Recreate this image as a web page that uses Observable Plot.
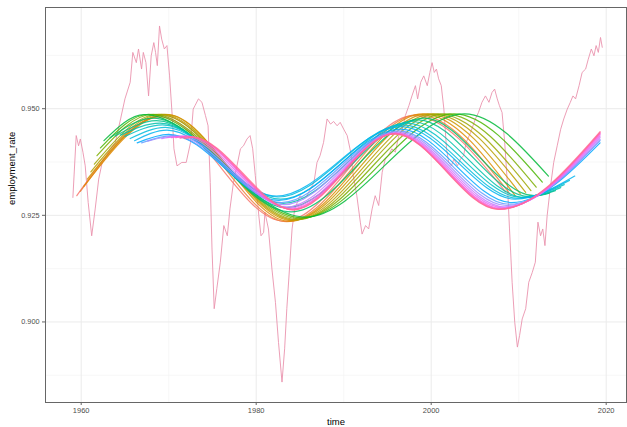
<!DOCTYPE html>
<html><head><meta charset="utf-8">
<script src="https://cdn.jsdelivr.net/npm/d3@7"></script>
<script src="https://cdn.jsdelivr.net/npm/@observablehq/plot@0.6"></script>
<style>
html,body{margin:0;padding:0;background:#fff;}
#chart svg{display:block;}
</style>
</head><body><div id="chart"></div>
<script>
// ---- observed employment rate (pink line) ----
const obsYear = [1959.05,1959.43,1959.70,1959.90,1960.20,1960.46,1960.80,1961.20,1961.60,1962.00,1962.40,1962.90,1963.30,1963.90,1964.50,1965.00,1965.60,1965.90,1966.30,1966.55,1966.90,1967.10,1967.40,1967.70,1968.00,1968.30,1968.50,1968.70,1968.95,1969.20,1969.50,1969.80,1970.10,1970.40,1970.60,1970.95,1971.50,1972.00,1972.50,1972.80,1973.00,1973.40,1973.80,1974.20,1974.50,1974.75,1974.95,1975.20,1975.50,1975.90,1976.30,1976.70,1977.00,1977.40,1977.80,1978.20,1978.55,1978.95,1979.30,1979.60,1979.90,1980.30,1980.55,1980.85,1981.00,1981.40,1981.80,1982.20,1982.55,1982.95,1983.25,1983.50,1983.80,1984.10,1984.40,1984.70,1985.00,1985.40,1985.80,1986.20,1986.60,1986.95,1987.30,1987.70,1988.10,1988.50,1988.85,1989.25,1989.60,1990.00,1990.40,1990.80,1991.10,1991.50,1991.90,1992.10,1992.50,1992.85,1993.25,1993.60,1994.00,1994.40,1994.75,1995.10,1995.50,1995.90,1996.30,1996.70,1997.05,1997.45,1997.80,1998.20,1998.45,1998.80,1999.15,1999.55,1999.85,2000.10,2000.35,2000.60,2000.85,2001.15,2001.45,2001.75,2002.00,2002.30,2002.60,2003.00,2003.35,2003.70,2004.00,2004.50,2005.05,2005.40,2005.80,2006.20,2006.60,2006.95,2007.25,2007.55,2007.80,2008.10,2008.40,2008.70,2008.95,2009.25,2009.55,2009.85,2010.10,2010.40,2010.80,2011.15,2011.55,2011.90,2012.20,2012.50,2012.75,2013.00,2013.25,2013.60,2014.00,2014.40,2014.80,2015.15,2015.55,2015.90,2016.20,2016.50,2016.90,2017.25,2017.65,2017.95,2018.30,2018.60,2018.85,2019.10,2019.35,2019.55];
const obsRate = [0.9292,0.9437,0.9413,0.9429,0.9398,0.9366,0.9280,0.9202,0.9265,0.9335,0.9374,0.9390,0.9406,0.9421,0.9476,0.9523,0.9562,0.9632,0.9608,0.9640,0.9593,0.9632,0.9608,0.9530,0.9624,0.9655,0.9632,0.9601,0.9694,0.9663,0.9640,0.9648,0.9577,0.9484,0.9406,0.9366,0.9374,0.9374,0.9421,0.9499,0.9507,0.9523,0.9515,0.9484,0.9460,0.9327,0.9171,0.9031,0.9078,0.9140,0.9226,0.9202,0.9265,0.9327,0.9366,0.9406,0.9413,0.9429,0.9437,0.9406,0.9343,0.9249,0.9202,0.9210,0.9257,0.9218,0.9124,0.9046,0.8952,0.8859,0.8937,0.9031,0.9124,0.9218,0.9265,0.9280,0.9296,0.9288,0.9296,0.9312,0.9327,0.9374,0.9390,0.9421,0.9476,0.9464,0.9470,0.9460,0.9468,0.9452,0.9437,0.9398,0.9343,0.9296,0.9234,0.9206,0.9226,0.9218,0.9265,0.9296,0.9273,0.9351,0.9382,0.9390,0.9406,0.9398,0.9437,0.9452,0.9484,0.9507,0.9530,0.9554,0.9523,0.9562,0.9577,0.9554,0.9585,0.9608,0.9585,0.9593,0.9570,0.9554,0.9499,0.9406,0.9374,0.9366,0.9382,0.9366,0.9382,0.9390,0.9421,0.9444,0.9476,0.9491,0.9515,0.9530,0.9515,0.9538,0.9546,0.9523,0.9507,0.9491,0.9421,0.9327,0.9218,0.9093,0.8999,0.8941,0.8968,0.9007,0.9031,0.9093,0.9116,0.9140,0.9234,0.9202,0.9218,0.9179,0.9249,0.9312,0.9374,0.9413,0.9452,0.9476,0.9499,0.9515,0.9530,0.9523,0.9554,0.9585,0.9593,0.9616,0.9640,0.9624,0.9648,0.9632,0.9667,0.9644];

// ---- fitted cycle curves: key points (start, extrema, end) ----
const fitYears = [
  [1959.5,1969.0,1983.2,1998.0,2008.5],
  [1959.9,1969.4,1983.5,1998.5,2009.0],
  [1960.3,1969.8,1983.8,1999.0,2009.6],
  [1960.7,1969.6,1984.1,1999.6,2010.2],
  [1961.1,1969.2,1984.4,2000.2,2010.8],
  [1961.5,1968.8,1984.7,2000.8,2011.4],
  [1961.8,1968.2,1985.0,2001.6,2012.0],
  [1962.2,1967.7,1985.3,2002.6,2012.7],
  [1962.6,1967.2,1985.6,2003.8,2013.4],
  [1963.3,1968.2,1984.0,1999.2,2011.8,2013.5],
  [1963.9,1968.6,1983.5,1998.5,2011.2,2014.2],
  [1964.5,1969.0,1983.1,1997.8,2010.7,2014.8],
  [1965.0,1969.3,1982.8,1997.2,2010.3,2015.2],
  [1965.6,1969.6,1982.5,1996.8,2009.9,2015.8],
  [1966.1,1969.8,1982.3,1996.6,2009.6,2016.4],
  [1966.4,1970.0,1982.6,1996.5,2009.2,2019.3],
  [1966.9,1970.4,1982.9,1996.3,2008.9,2019.3],
  [1967.6,1970.9,1983.2,1996.2,2008.6,2019.3],
  [1969.2,1971.4,1983.5,1996.1,2008.4,2019.3],
  [1969.8,1971.8,1983.8,1996.0,2008.2,2019.3],
  [1970.3,1972.1,1984.0,1995.9,2008.0,2019.3],
  [1970.8,1972.3,1984.1,1995.8,2007.9,2019.3],
  [1971.3,1972.5,1984.2,1995.8,2007.8,2019.3],
  [1971.8,1972.7,1984.3,1995.8,2007.7,2019.3]
];
const fitValues = [
  [0.9296,0.9481,0.9236,0.9484,0.9305],
  [0.9306,0.9484,0.9235,0.9486,0.9300],
  [0.9318,0.9486,0.9236,0.9488,0.9296],
  [0.9335,0.9487,0.9238,0.9488,0.9300],
  [0.9352,0.9487,0.9239,0.9488,0.9304],
  [0.9370,0.9487,0.9240,0.9488,0.9308],
  [0.9390,0.9487,0.9242,0.9488,0.9316],
  [0.9408,0.9487,0.9244,0.9488,0.9328],
  [0.9425,0.9486,0.9246,0.9488,0.9342],
  [0.9432,0.9478,0.9258,0.9478,0.9296,0.9302],
  [0.9436,0.9472,0.9268,0.9474,0.9294,0.9308],
  [0.9438,0.9466,0.9278,0.9470,0.9292,0.9315],
  [0.9435,0.9462,0.9288,0.9466,0.9292,0.9322],
  [0.9430,0.9456,0.9293,0.9462,0.9290,0.9332],
  [0.9425,0.9450,0.9295,0.9458,0.9288,0.9342],
  [0.9420,0.9440,0.9285,0.9452,0.9280,0.9420],
  [0.9420,0.9437,0.9280,0.9448,0.9276,0.9425],
  [0.9424,0.9436,0.9275,0.9446,0.9273,0.9428],
  [0.9430,0.9436,0.9270,0.9444,0.9270,0.9432],
  [0.9432,0.9436,0.9267,0.9443,0.9268,0.9436],
  [0.9432,0.9436,0.9265,0.9442,0.9266,0.9440],
  [0.9432,0.9435,0.9264,0.9442,0.9265,0.9442],
  [0.9431,0.9434,0.9263,0.9441,0.9264,0.9444],
  [0.9430,0.9433,0.9263,0.9441,0.9264,0.9446]
];

// ---- axis ticks ----
const xMajor = [1960, 1980, 2000, 2020];
const xMinor = [1970, 1990, 2010];
const yMajor = [0.900, 0.925, 0.950];
const yMinor = [0.8875, 0.9125, 0.9375, 0.9625];

// ggplot-like hue palette (polar CIE-LUV, c=100, l=65)
function hclR(h, c, l) {
  const Xn = 95.047, Yn = 100, Zn = 108.883;
  const hr = h * Math.PI / 180;
  const U = c * Math.cos(hr), V = c * Math.sin(hr);
  const Y = l > 7.999592 ? Yn * Math.pow((l + 16) / 116, 3) : Yn * l / 903.3;
  const den = Xn + 15 * Yn + 3 * Zn;
  const un = 4 * Xn / den, vn = 9 * Yn / den;
  const u = U / (13 * l) + un, v = V / (13 * l) + vn;
  const X = 9 * Y * u / (4 * v);
  const Z = -X / 3 - 5 * Y + 3 * Y / v;
  const x = X / 100, y = Y / 100, z = Z / 100;
  const lin = [
    3.240479 * x - 1.537150 * y - 0.498535 * z,
    -0.969256 * x + 1.875992 * y + 0.041556 * z,
    0.055648 * x - 0.204043 * y + 1.057311 * z
  ];
  const g = lin.map(t => {
    const s = t <= 0.0031308 ? 12.92 * t : 1.055 * Math.pow(t, 1 / 2.4) - 0.055;
    return Math.round(Math.max(0, Math.min(1, s)) * 255);
  });
  return `rgb(${g[0]},${g[1]},${g[2]})`;
}
const nFit = fitYears.length;
const fitColors = d3.range(nFit).map(i => hclR(15 + i * 360 / nFit, 100, 65));

const obs = obsYear.map((t, i) => ({t, v: obsRate[i]}));
const fits = [];
fitYears.forEach((ys, k) => ys.forEach((t, j) => fits.push({id: k, t, v: fitValues[k][j], c: fitColors[k]})));

const font = "'Liberation Sans', Arial, Helvetica, sans-serif";
const chart = Plot.plot({
  width: 627, height: 427,
  marginTop: 7, marginRight: 1, marginBottom: 25, marginLeft: 45,
  style: {fontFamily: font, background: "#fff"},
  x: {domain: [1955.92, 2022.32]},
  y: {domain: [0.88111, 0.97373]},
  marks: [
    Plot.ruleX(xMinor, {stroke: "#F2F2F2", strokeWidth: 0.6}),
    Plot.ruleY(yMinor, {stroke: "#F2F2F2", strokeWidth: 0.6}),
    Plot.ruleX(xMajor, {stroke: "#EBEBEB", strokeWidth: 1}),
    Plot.ruleY(yMajor, {stroke: "#EBEBEB", strokeWidth: 1}),
    Plot.line(obs, {x: "t", y: "v", stroke: "#EA93AE", strokeWidth: 0.9}),
    Plot.line(fits, {x: "t", y: "v", z: "id", stroke: "c", curve: "monotone-x", strokeWidth: 1.2, strokeOpacity: 0.85}),
    Plot.frame({stroke: "#666", strokeWidth: 1}),
    Plot.axisX({ticks: xMajor, tickFormat: d => String(d), tickSize: 3, tickPadding: 2.5, fontSize: 7.5, stroke: "#666", fill: "#4D4D4D", label: null}),
    Plot.axisY({ticks: yMajor, tickFormat: d3.format(".3f"), tickSize: 3, tickPadding: 3, fontSize: 7.3, stroke: "#666", fill: "#4D4D4D", label: null}),
    Plot.text([0], {frameAnchor: "bottom", dy: 22, lineAnchor: "bottom", text: () => "time", fontSize: 9.5, fill: "#000"}),
    Plot.text([0], {frameAnchor: "left", dx: -34, rotate: -90, text: () => "employment_rate", fontSize: 9.5, fill: "#000"})
  ]
});
document.getElementById("chart").appendChild(chart);
</script></body></html>
